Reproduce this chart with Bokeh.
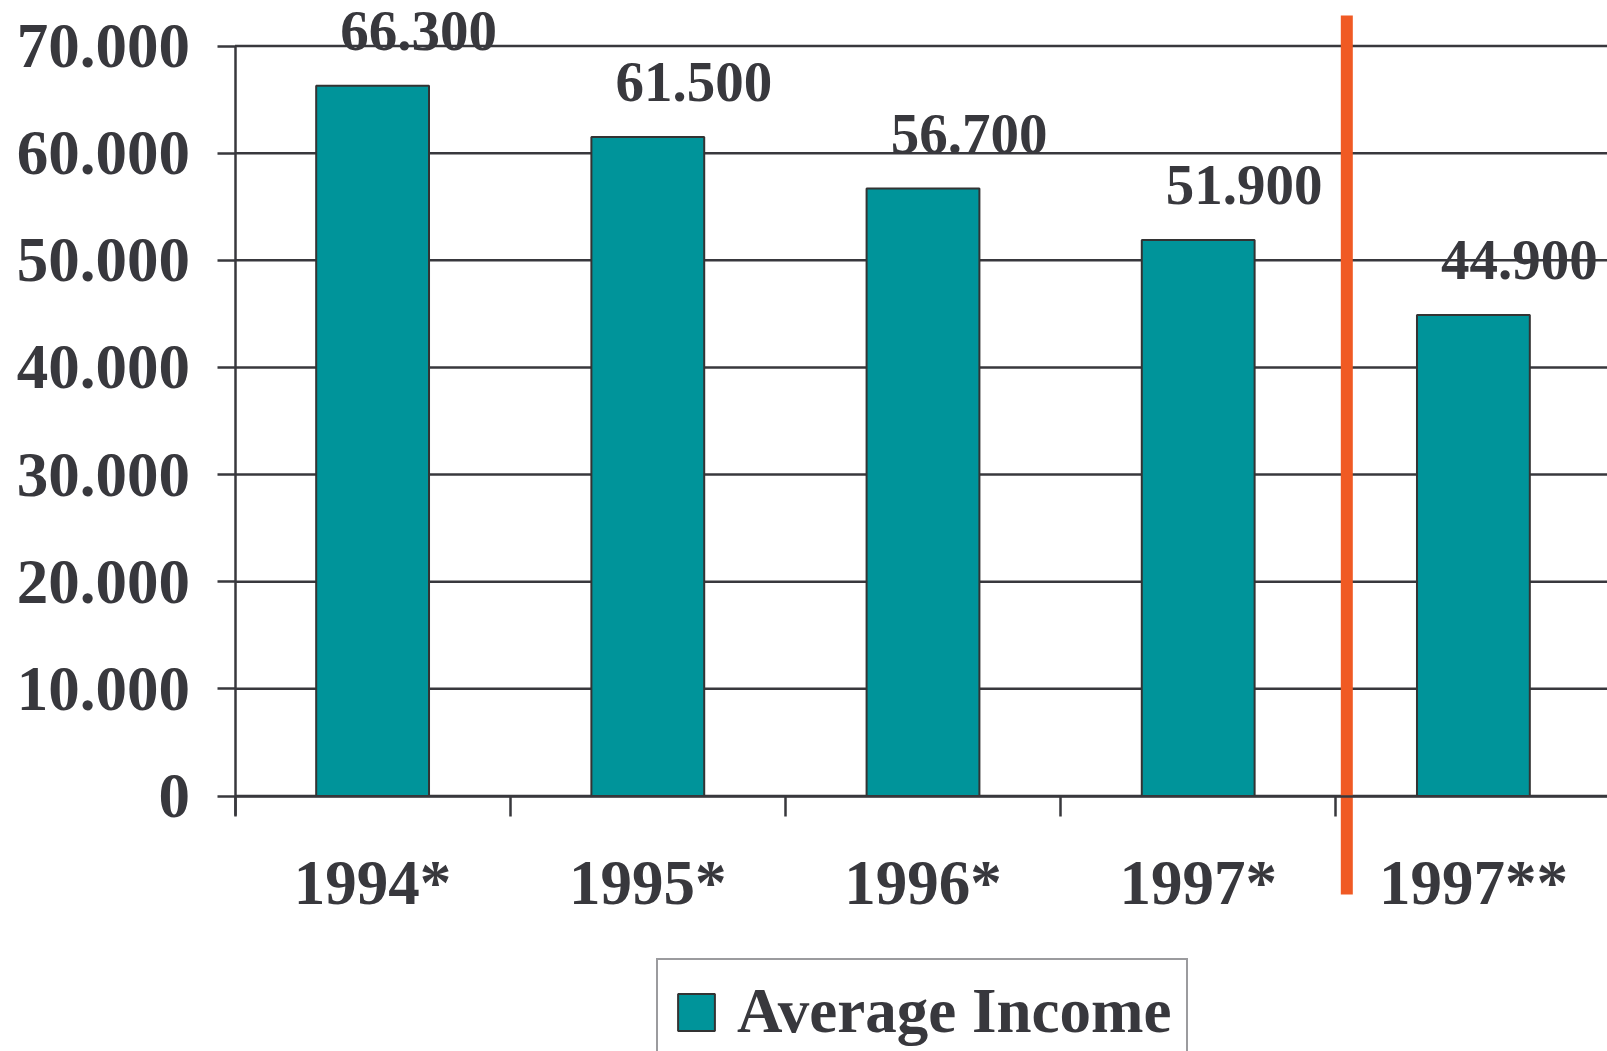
from bokeh.plotting import figure
from bokeh.models import (Range1d, LinearAxis, FixedTicker, Legend, LegendItem)
from bokeh.core.properties import value
from bokeh.embed import file_html
from bokeh.resources import INLINE

# ---- data ----
categories = ["1994*", "1995*", "1996*", "1997*", "1997**"]
income = [66300, 61500, 56700, 51900, 44900]
y_ticks = [0, 10000, 20000, 30000, 40000, 50000, 60000, 70000]
y_tick_labels = ["0", "10.000", "20.000", "30.000", "40.000", "50.000", "60.000", "70.000"]
series_name = "Average Income"

# ---- derived ----
xc = [i + 0.5 for i in range(len(categories))]
bar_labels = [f"{v:,.0f}".replace(",", ".") for v in income]

W, H = 1607, 1051
TXT = "#38383d"
TEAL = "#00949a"
FONT = "Liberation Serif"

# pixel-calibrated ranges (frame = whole canvas)
px_per_cat = 275.2
x0_px = 234.5
px_per_unit_y = 750.0 / 70000.0
y0_px = 795.5

x_start = -x0_px / px_per_cat
x_end = (W - x0_px) / px_per_cat
y_end = y0_px / px_per_unit_y
y_start = -(H - y0_px) / px_per_unit_y

p = figure(width=W, height=H, output_backend="svg", toolbar_location=None,
           x_range=Range1d(x_start, x_end), y_range=Range1d(y_start, y_end),
           x_axis_type=None, y_axis_type=None,
           min_border=0, min_border_left=0, min_border_right=0,
           min_border_top=0, min_border_bottom=0)
p.outline_line_color = None
p.background_fill_color = "white"
p.border_fill_color = "white"
p.xgrid.visible = False
p.ygrid.visible = False

# gridlines (behind bars)
n = len(categories)
p.segment(x0=[0] * len(y_ticks), y0=y_ticks, x1=[n] * len(y_ticks), y1=y_ticks,
          line_color=TXT, line_width=2.5)

# bars
bars = p.vbar(x=xc, top=income, width=0.41, fill_color=TEAL,
              line_color="#333333", line_width=2)

# value labels
p.text(x=xc, y=income, text=bar_labels, x_offset=46, y_offset=-55,
       text_align="center", text_baseline="alphabetic",
       text_font=value(FONT), text_font_style="bold", text_font_size="57px",
       text_color=TXT)

# separator line
sep_x = n - 1 + 0.04
p.segment(x0=[sep_x], y0=[y_start + (H - 894) / px_per_unit_y], x1=[sep_x],
          y1=[y_end - 15 / px_per_unit_y], line_color="#f05a24", line_width=12,
          line_cap="butt")

# y axis
yax = LinearAxis(fixed_location=0, bounds=(-(815 - y0_px) / px_per_unit_y, 70000),
                 ticker=FixedTicker(ticks=y_ticks, minor_ticks=[]),
                 major_label_overrides={t: l for t, l in zip(y_ticks, y_tick_labels)})
yax.axis_line_color = TXT
yax.axis_line_width = 2.5
yax.major_tick_line_color = TXT
yax.major_tick_line_width = 2.5
yax.major_tick_out = 18
yax.major_tick_in = 0
yax.minor_tick_line_color = None
yax.major_label_standoff = 27
yax.major_label_text_font = FONT
yax.major_label_text_font_style = "bold"
yax.major_label_text_font_size = "63px"
yax.major_label_text_color = TXT
p.add_layout(yax, "left")

# x axis
xax = LinearAxis(fixed_location=0, bounds=(0, n),
                 ticker=FixedTicker(ticks=xc, minor_ticks=list(range(n + 1))),
                 major_label_overrides={x: c for x, c in zip(xc, categories)})
xax.axis_line_color = TXT
xax.axis_line_width = 2.5
xax.major_tick_line_color = None
xax.major_tick_out = 0
xax.major_tick_in = 0
xax.minor_tick_line_color = TXT
xax.minor_tick_line_width = 2.5
xax.minor_tick_out = 20
xax.minor_tick_in = 0
xax.major_label_standoff = 32
xax.major_label_text_font = FONT
xax.major_label_text_font_style = "bold"
xax.major_label_text_font_size = "63px"
xax.major_label_text_color = TXT
p.add_layout(xax, "below")

# legend (bottom edge runs off the canvas, as in the original)
legend = Legend(items=[LegendItem(label=series_name, renderers=[bars])],
                location=(656, -14))
legend.border_line_color = TXT
legend.border_line_width = 2
legend.padding = 15
legend.margin = 0
legend.glyph_width = 46
legend.glyph_height = 46
legend.label_standoff = 18
legend.label_text_font = FONT
legend.label_text_font_style = "bold"
legend.label_text_font_size = "63px"
legend.label_text_color = TXT
legend.background_fill_alpha = 1
p.add_layout(legend, "center")

open("out.html", "w").write(file_html(p, INLINE))
